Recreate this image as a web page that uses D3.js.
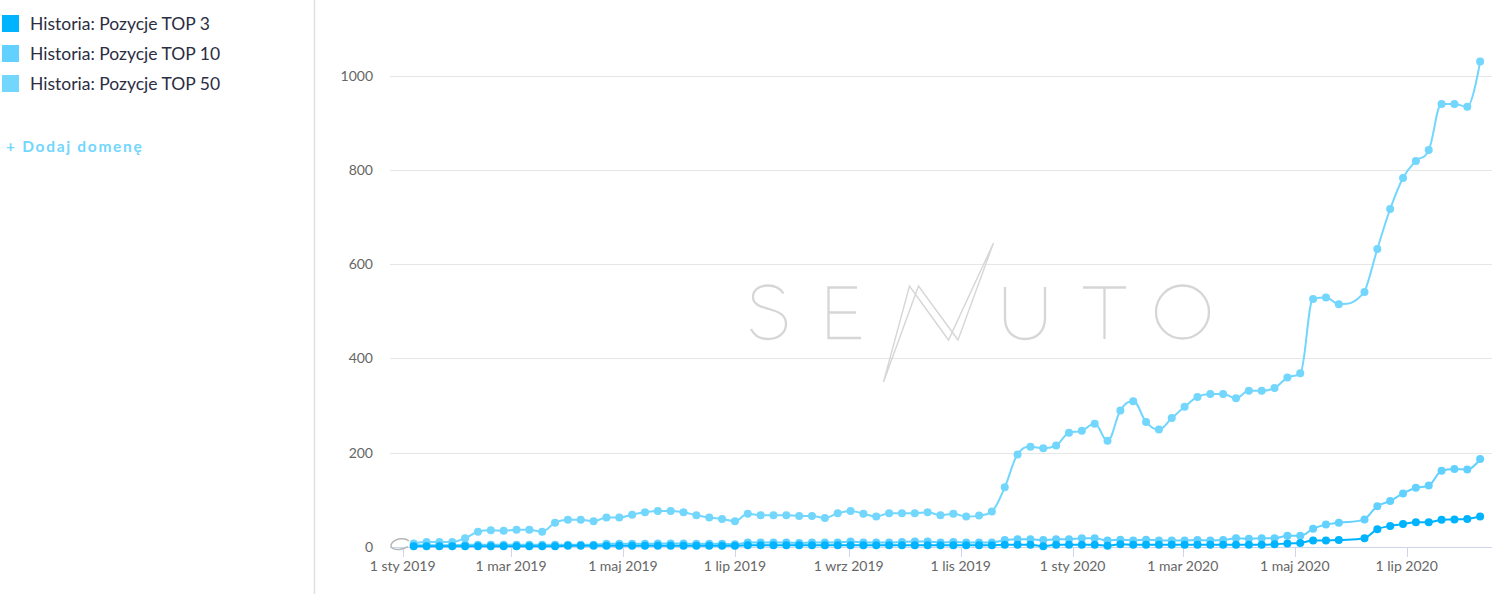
<!DOCTYPE html>
<html>
<head>
<meta charset="utf-8">
<script src="https://cdn.jsdelivr.net/npm/d3@7"></script>
<style>
  html, body { margin: 0; padding: 0; background: #fff; }
  svg { display: block; font-family: Lato, "Open Sans", sans-serif; }
</style>
</head>
<body>
<svg id="chart" width="1499" height="594"></svg>
<script>
// ---------- DATA ----------
const seriesNames = ["Historia: Pozycje TOP 3", "Historia: Pozycje TOP 10", "Historia: Pozycje TOP 50"];
const seriesColors = ["#00b3ff", "#63d1ff", "#72d6fd"];

const dates = [
  "2019-01-07","2019-01-14","2019-01-21","2019-01-28","2019-02-04","2019-02-11","2019-02-18","2019-02-25",
  "2019-03-04","2019-03-11","2019-03-18","2019-03-25","2019-04-01","2019-04-08","2019-04-15","2019-04-22",
  "2019-04-29","2019-05-06","2019-05-13","2019-05-20","2019-05-27","2019-06-03","2019-06-10","2019-06-17",
  "2019-06-24","2019-07-01","2019-07-08","2019-07-15","2019-07-22","2019-07-29","2019-08-05","2019-08-12",
  "2019-08-19","2019-08-26","2019-09-02","2019-09-09","2019-09-16","2019-09-23","2019-09-30","2019-10-07",
  "2019-10-14","2019-10-21","2019-10-28","2019-11-04","2019-11-11","2019-11-18","2019-11-25","2019-12-02",
  "2019-12-09","2019-12-16","2019-12-23","2019-12-30","2020-01-06","2020-01-13","2020-01-20","2020-01-27",
  "2020-02-03","2020-02-10","2020-02-17","2020-02-24","2020-03-02","2020-03-09","2020-03-16","2020-03-23",
  "2020-03-30","2020-04-06","2020-04-13","2020-04-20","2020-04-27","2020-05-04","2020-05-11","2020-05-18",
  "2020-05-25","2020-06-08","2020-06-15","2020-06-22","2020-06-29","2020-07-06","2020-07-13","2020-07-20",
  "2020-07-27","2020-08-03","2020-08-10"
];

const top3 = [
  1,1,1,1,1,1,1,1,1,1,
  1,1,2,2,2,2,2,2,2,2,
  2,2,2,2,2,2,3,3,3,3,
  3,3,3,3,3,3,3,3,3,3,
  3,3,3,3,3,3,4,4,4,1,
  4,4,4,4,2,5,4,4,4,4,
  4,4,4,4,4,4,4,5,7,8,
  13,13,14,
  18,37,44,48,52,52,57,58,59,64
];

const top10 = [
  3,3,3,3,4,4,4,4,4,4,
  4,4,4,4,4,6,6,6,6,7,
  7,7,6,6,6,5,9,9,9,9,
  8,9,9,9,11,9,9,9,10,11,
  11,9,10,9,9,9,14,16,16,14,
  16,16,18,18,13,15,13,15,13,13,
  13,14,13,14,18,17,18,18,23,23,
  38,47,51,
  58,86,97,113,125,130,161,165,164,186
];

const top50 = [
  7,10,10,10,18,32,35,34,36,36,
  32,51,57,57,54,62,62,68,73,76,
  76,73,67,62,59,54,70,67,67,67,
  65,65,61,71,76,70,64,71,71,71,
  73,67,70,64,66,75,126,196,212,209,
  215,242,246,261,225,289,309,265,249,273,
  297,318,324,324,315,331,331,337,359,368,
  526,529,515,
  541,632,717,783,819,842,940,940,934,1030
];

const yTicks = [0, 200, 400, 600, 800, 1000];
const xTickDates = ["2019-01-01","2019-03-01","2019-05-01","2019-07-01","2019-09-01","2019-11-01",
                    "2020-01-01","2020-03-01","2020-05-01","2020-07-01"];
const xTickLabels = ["1 sty 2019","1 mar 2019","1 maj 2019","1 lip 2019","1 wrz 2019","1 lis 2019",
                     "1 sty 2020","1 mar 2020","1 maj 2020","1 lip 2020"];
const addDomainLabel = "+ Dodaj domenę";

// ---------- LAYOUT ----------
const svg = d3.select("#chart");
const plotLeft = 390, plotRight = 1492;
const parse = d3.utcParse("%Y-%m-%d");

const x = d3.scaleUtc()
  .domain([parse("2019-01-01"), parse("2020-07-01")])
  .range([402.7, 1406.7]);
const y = d3.scaleLinear().domain([0, 1000]).range([546.7, 75.7]);

// Highcharts-like spline as a d3 curve
function hcSpline(context) {
  let pts = [];
  return {
    areaStart() {}, areaEnd() {},
    lineStart() { pts = []; },
    point(px, py) { pts.push([+px, +py]); },
    lineEnd() {
      const n = pts.length; if (!n) return;
      const s = 1.5, den = s + 1;
      const lc = pts.map(p => p.slice()), rc = pts.map(p => p.slice());
      for (let i = 1; i < n - 1; i++) {
        const [px, py] = pts[i], [lx, ly] = pts[i - 1], [nx, ny] = pts[i + 1];
        let lcx = (s * px + lx) / den, lcy = (s * py + ly) / den;
        let rcx = (s * px + nx) / den, rcy = (s * py + ny) / den;
        let corr = 0;
        if (rcx !== lcx) corr = ((rcy - lcy) * (rcx - px)) / (rcx - lcx) + py - rcy;
        lcy += corr; rcy += corr;
        if (lcy > ly && lcy > py) { lcy = Math.max(ly, py); rcy = 2 * py - lcy; }
        else if (lcy < ly && lcy < py) { lcy = Math.min(ly, py); rcy = 2 * py - lcy; }
        if (rcy > ny && rcy > py) { rcy = Math.max(ny, py); lcy = 2 * py - rcy; }
        else if (rcy < ny && rcy < py) { rcy = Math.min(ny, py); lcy = 2 * py - rcy; }
        lc[i] = [lcx, lcy]; rc[i] = [rcx, rcy];
      }
      context.moveTo(pts[0][0], pts[0][1]);
      for (let i = 1; i < n; i++) {
        context.bezierCurveTo(rc[i - 1][0], rc[i - 1][1], lc[i][0], lc[i][1], pts[i][0], pts[i][1]);
      }
    }
  };
}

// ---------- LEFT PANEL ----------
const legend = svg.append("g");
seriesNames.forEach((name, i) => {
  legend.append("rect")
    .attr("x", 2).attr("y", 15 + i * 30).attr("width", 17).attr("height", 17)
    .attr("fill", seriesColors[i]);
  legend.append("text")
    .attr("x", 30).attr("y", 29.5 + i * 30)
    .attr("font-size", 17.5).attr("fill", "#2b2d42")
    .text(name);
});
svg.append("text")
  .attr("x", 6).attr("y", 152)
  .attr("font-size", 15.5).attr("font-weight", 700)
  .attr("letter-spacing", 1.7)
  .attr("fill", "#72d6fd")
  .text(addDomainLabel);

svg.append("line")
  .attr("x1", 314.5).attr("x2", 314.5).attr("y1", 0).attr("y2", 594)
  .attr("stroke", "#e0e0e0").attr("stroke-width", 1.5);

// ---------- GRID ----------
svg.append("g").selectAll("line").data(yTicks.filter(d => d > 0)).join("line")
  .attr("x1", plotLeft).attr("x2", plotRight)
  .attr("y1", d => Math.round(y(d)) + 0.5).attr("y2", d => Math.round(y(d)) + 0.5)
  .attr("stroke", "#e6e6e6").attr("stroke-width", 1);

svg.append("g").selectAll("text").data(yTicks).join("text")
  .attr("x", 373).attr("y", d => y(d) + 5)
  .attr("text-anchor", "end").attr("font-size", 14).attr("fill", "#666")
  .text(d => d);

// ---------- WATERMARK ----------
const wm = svg.append("g").attr("fill", "none").attr("stroke", "#d6d6d6").attr("stroke-width", 2.3);
wm.append("path").attr("d",
  "M783.5,293.5 C780,288 774,285.5 768,285.5 C759,285.5 753,290 753,297 C753,305 762,307 769,309 C778,311.5 786,314.5 786,324 C786,333 778,339 768,339 C760,339 754,335 751,329");
wm.append("path").attr("d", "M857,287.5 H828.5 V338 H861 M828.5,312.5 H856");
wm.append("path").attr("d", "M883.5,382 L909.5,286 L948.5,340 L993.5,243 M883.5,382 L918.5,286 L958,340 L993.5,243")
  .attr("stroke-width", 1.4).attr("stroke-linejoin", "miter");
wm.append("path").attr("d", "M1005,287 V318 C1005,331 1013,339 1025,339 C1037,339 1045,331 1045,318 V287");
wm.append("path").attr("d", "M1083,287.5 H1126 M1104.5,287.5 V339");
wm.append("circle").attr("cx", 1182.5).attr("cy", 312).attr("r", 26.5);

// ---------- AXIS ----------
const xAxisG = svg.append("g");
xAxisG.append("line")
  .attr("x1", plotLeft).attr("x2", plotRight).attr("y1", 547.5).attr("y2", 547.5)
  .attr("stroke", "#ccd6eb").attr("stroke-width", 1);
const xt = xTickDates.map(parse);
xAxisG.selectAll("line.tick").data(xt).join("line").attr("class", "tick")
  .attr("x1", d => Math.round(x(d)) + 0.5).attr("x2", d => Math.round(x(d)) + 0.5)
  .attr("y1", 547).attr("y2", 557)
  .attr("stroke", "#ccd6eb").attr("stroke-width", 1);
xAxisG.selectAll("text").data(xt).join("text")
  .attr("x", d => x(d)).attr("y", 570.5)
  .attr("text-anchor", "middle").attr("font-size", 14).attr("fill", "#666")
  .text((d, i) => xTickLabels[i]);

// small annotation flag near the origin
svg.append("path")
  .attr("d", "M409,541 C405,537.5 396,538 392,543 C389,547 393,550 399,549.5 C403,549 406,548 408,546.5")
  .attr("fill", "none").attr("stroke", "#b5b5b5").attr("stroke-width", 1.4);

// ---------- SERIES ----------
const dd = dates.map(parse);
const allSeries = [top3, top10, top50];
const line = d3.line().x(d => x(d[0])).y(d => y(d[1])).curve(hcSpline);
const drawOrder = [2, 1, 0];
drawOrder.forEach(si => {
  const pts = dd.map((d, i) => [d, allSeries[si][i]]);
  const g = svg.append("g");
  g.append("path").datum(pts).attr("d", line)
    .attr("fill", "none").attr("stroke", seriesColors[si]).attr("stroke-width", 2)
    .attr("stroke-linejoin", "round").attr("stroke-linecap", "round");
  g.selectAll("circle").data(pts).join("circle")
    .attr("cx", d => x(d[0])).attr("cy", d => y(d[1])).attr("r", 4)
    .attr("fill", seriesColors[si]);
});
</script>
</body>
</html>
